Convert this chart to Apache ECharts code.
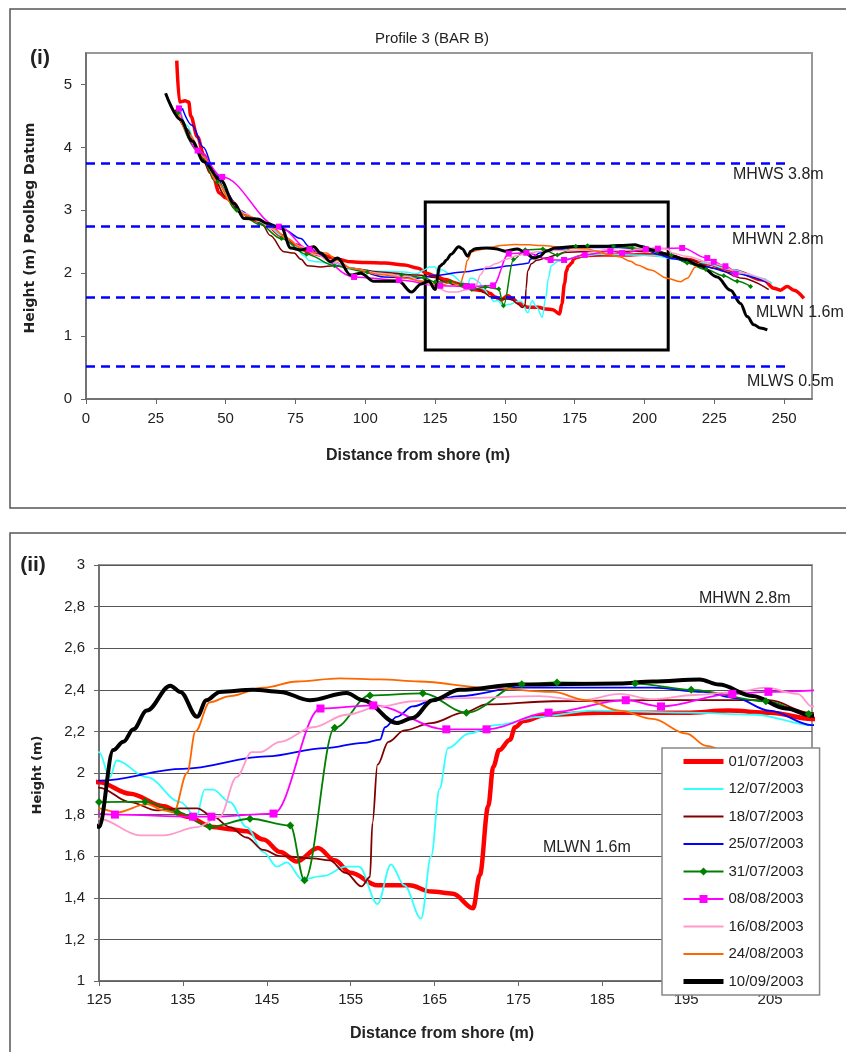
<!DOCTYPE html>
<html lang="en">
<head>
    <meta charset="UTF-8">
    <title>Profile 3 (BAR B)</title>
    <style>
        html,
        body,
        #chart {
            margin: 0px;
            padding: 0px;
            width: 846px;
            height: 1052px;
            background: #fff;
        }
    </style>
</head>
<body>
    <div id="chart"></div>
    <script src="https://cdn.jsdelivr.net/npm/echarts@6/dist/echarts.min.js"></script>
    <script>
        // survey dates (legend order = draw order)
        var dates = ['01/07/2003', '12/07/2003', '18/07/2003', '25/07/2003', '31/07/2003',
            '08/08/2003', '16/08/2003', '24/08/2003', '10/09/2003'];
        var colors = ['#ff0000', '#33ffff', '#800000', '#0000ff', '#008000',
            '#ff00ff', '#ff99cc', '#ff6600', '#000000'];

        // profiles: [distance from shore (m), height (m)]
        var p0107 = [[32.5, 5.38], [33.5, 4.72], [35.5, 4.74], [36.8, 4.72], [37.5, 4.5], [39.9, 4.17], [42.2, 3.88], [44.6, 3.6], [45.8, 3.5], [47.6, 3.28], [50, 3.2], [52, 3.15], [55, 2.98], [60, 2.85], [65, 2.75], [70, 2.6], [75, 2.45], [80, 2.33], [85, 2.28], [90, 2.22], [95, 2.18], [100, 2.17], [107, 2.16], [114, 2.13], [119, 2.08], [122, 2.0], [125, 1.955], [128.7, 1.9], [132.7, 1.84], [135.5, 1.79], [138.6, 1.74], [140.6, 1.73], [142.6, 1.72], [144.6, 1.68], [146.6, 1.62], [148.6, 1.575], [151.1, 1.64], [153.1, 1.58], [155, 1.52], [158.2, 1.46], [162, 1.46], [164.6, 1.43], [167.2, 1.42], [169.6, 1.35], [170.4, 1.51], [171.4, 1.84], [172, 2.03], [172.7, 2.11], [174, 2.16], [174.6, 2.22], [175.6, 2.25], [178.3, 2.28], [185, 2.29], [195, 2.29], [200, 2.3], [205, 2.29], [210, 2.26], [215, 2.22], [222, 2.15], [232, 2.04], [242.7, 1.89], [246.3, 1.76], [248.7, 1.73], [251.1, 1.79], [253.5, 1.73], [257.1, 1.6]];
        var p1207 = [[33.5, 4.65], [36, 4.35], [40, 3.98], [45, 3.6], [50, 3.22], [55, 3.0], [60, 2.87], [65, 2.75], [70, 2.6], [75, 2.42], [78, 2.28], [80, 2.2], [83, 2.18], [88, 2.15], [95, 2.06], [105, 2.03], [114, 2.02], [118.5, 1.99], [121, 2.05], [123, 2.1], [125, 2.1], [126.3, 1.98], [127.1, 2.06], [130.7, 1.98], [134.7, 1.86], [136.6, 1.79], [137.6, 1.92], [138.6, 1.92], [140.6, 1.86], [142.6, 1.74], [144.6, 1.62], [146.2, 1.55], [147.4, 1.57], [149.2, 1.49], [151.8, 1.505], [154.4, 1.55], [156, 1.55], [158.2, 1.37], [159.8, 1.56], [161.4, 1.46], [163.4, 1.3], [164.6, 1.6], [165.6, 1.925], [166.6, 2.12], [169.1, 2.19], [172.3, 2.23], [177.5, 2.27], [183.9, 2.3], [195, 2.29], [203.2, 2.28], [210, 2.23], [220, 2.17], [232, 2.05], [240, 1.94], [245.7, 1.84]];
        var p1807 = [[32, 4.6], [36, 4.3], [40, 3.95], [45, 3.58], [50, 3.22], [55, 2.98], [60, 2.88], [63, 2.78], [66, 2.6], [70.9, 2.34], [74.5, 2.32], [77, 2.22], [79.3, 2.12], [84, 2.1], [88.8, 2.12], [94.8, 2.08], [105, 2.02], [118.7, 1.97], [125, 1.93], [128.7, 1.86], [131.9, 1.82], [134.7, 1.83], [136.7, 1.83], [138.6, 1.79], [140.6, 1.74], [142.6, 1.69], [144.6, 1.63], [146.6, 1.6], [150.5, 1.59], [152.5, 1.58], [154.4, 1.52], [156.3, 1.455], [157.3, 1.5], [157.6, 1.76], [158.2, 2.04], [159.5, 2.15], [161.4, 2.205], [164.6, 2.24], [168.5, 2.29], [171.2, 2.33], [179.1, 2.345], [191, 2.35], [204.9, 2.35], [209.7, 2.29], [215, 2.22], [225, 2.08], [235, 1.92], [244.5, 1.74]];
        var p2507 = [[34.5, 4.62], [38, 4.35], [42, 4.0], [46, 3.62], [50, 3.3], [55, 3.0], [60, 2.86], [65, 2.78], [70.9, 2.69], [76.9, 2.55], [80, 2.42], [82.8, 2.32], [88, 2.18], [95, 2.08], [106.7, 1.94], [118.7, 1.92], [125, 1.963], [135, 2.02], [145, 2.08], [152, 2.12], [156.5, 2.145], [158.5, 2.16], [159.1, 2.22], [160.5, 2.27], [162.4, 2.32], [164.8, 2.35], [168, 2.37], [175.1, 2.41], [191, 2.41], [197, 2.39], [200.9, 2.36], [204.9, 2.3], [210, 2.23], [220, 2.12], [232, 2.0], [244, 1.85]];
        var p3107 = [[33, 4.55], [40, 3.95], [47, 3.45], [54, 3.0], [62, 2.78], [70, 2.55], [79, 2.3], [89, 2.12], [100.7, 2.02], [113, 1.97], [121, 1.93], [125, 1.86], [130.5, 1.862], [134.3, 1.813], [138.2, 1.741], [143, 1.78], [147.8, 1.747], [149.5, 1.484], [153.1, 2.218], [157.3, 2.373], [163.6, 2.383], [168.8, 2.29], [175.4, 2.427], [179.6, 2.435], [188.9, 2.43], [195.6, 2.4], [204.5, 2.345], [209.6, 2.284], [215.3, 2.16], [222, 2.06], [228.4, 1.96], [233.2, 1.87], [238, 1.79]];
        var p0808 = [[33.3, 4.62], [40, 3.95], [48.8, 3.53], [69.1, 2.74], [80, 2.38], [96, 1.94], [112, 1.89], [126.9, 1.8], [136.2, 1.79], [138.4, 1.79], [145.8, 1.805], [151.4, 2.31], [157.7, 2.325], [166.4, 2.21], [171.2, 2.21], [178.6, 2.29], [187.8, 2.35], [192, 2.32], [200.5, 2.38], [204.8, 2.39], [213.5, 2.4], [222.5, 2.24], [224.8, 2.18], [229, 2.11], [232.6, 1.99]];
        var p1608 = [[33, 4.55], [37, 4.2], [42, 3.85], [47, 3.45], [52, 3.15], [57, 2.95], [62, 2.82], [67, 2.7], [72, 2.55], [77, 2.42], [82, 2.3], [88, 2.18], [95, 2.08], [105, 2.0], [115, 1.95], [120, 1.88], [125, 1.78], [129.9, 1.7], [132.7, 1.7], [136.7, 1.74], [139.4, 1.79], [141.4, 1.98], [143.2, 2.1], [144.2, 2.1], [146.6, 2.15], [150.5, 2.22], [154.5, 2.28], [158.5, 2.32], [162.4, 2.345], [168, 2.36], [177.5, 2.37], [182.6, 2.35], [187.1, 2.38], [191, 2.355], [196, 2.375], [200.9, 2.39], [204.5, 2.41], [208.3, 2.38], [210, 2.32], [215, 2.27], [225, 2.15], [235, 2.0], [245, 1.85]];
        var p2408 = [[33, 4.55], [37, 4.2], [42, 3.85], [47, 3.45], [52, 3.12], [57, 2.92], [62, 2.85], [67, 2.72], [72, 2.55], [77, 2.4], [82, 2.33], [86, 2.32], [90, 2.2], [95, 2.08], [105, 1.98], [115, 1.92], [120, 1.87], [125, 1.83], [127.1, 1.81], [130.7, 1.85], [132.7, 1.82], [133.9, 1.81], [135.5, 2.0], [136.5, 2.2], [138.2, 2.34], [140.6, 2.37], [144.6, 2.41], [148.6, 2.44], [153.7, 2.455], [158.5, 2.45], [163.2, 2.44], [171.2, 2.41], [179.1, 2.39], [183.1, 2.35], [187, 2.3], [191, 2.26], [195, 2.19], [197.4, 2.13], [202.2, 2.05], [208.2, 1.92], [212.9, 1.865], [215.3, 1.92], [218.3, 2.1], [219.5, 2.16]];
        var p1009 = [[28.5, 4.86], [33.9, 4.44], [38, 4.1], [42.2, 3.77], [48.2, 3.48], [53, 3.11], [56.6, 2.87], [61.4, 2.86], [65, 2.79], [68.5, 2.74], [70, 2.72], [73.3, 2.4], [77, 2.37], [81.6, 2.42], [84, 2.32], [87.6, 2.18], [90, 2.24], [94.8, 1.97], [98.4, 2.0], [103.1, 1.87], [112, 1.87], [116.6, 1.7], [120, 1.83], [122.8, 1.87], [125, 1.74], [126.7, 2.11], [127.9, 2.15], [129.1, 2.21], [130.7, 2.3], [133.5, 2.42], [134.7, 2.39], [136.7, 2.27], [137.8, 2.35], [139.4, 2.39], [143.4, 2.4], [146.6, 2.39], [150.1, 2.35], [154.5, 2.385], [156.5, 2.35], [160.5, 2.24], [162.4, 2.265], [164.8, 2.35], [168, 2.4], [175.1, 2.425], [187, 2.43], [191, 2.44], [196.6, 2.45], [198.9, 2.425], [202.9, 2.37], [206.9, 2.31], [210, 2.275], [214, 2.22], [220, 2.12], [226, 1.94], [230.8, 1.73], [234.4, 1.52], [236.8, 1.31], [239.2, 1.18], [241.5, 1.13], [244, 1.1]];
        var profiles = [p0107, p1207, p1807, p2507, p3107, p0808, p1608, p2408, p1009];

        // tide levels (Poolbeg datum)
        var tideNames = ['MHWS 3.8m', 'MHWN 2.8m', 'MLWN 1.6m', 'MLWS 0.5m'];
        var tideLevels = [3.74, 2.74, 1.62, 0.52];
        var tideEnd = 252;
        // zoom box drawn on panel (i)
        var boxX = [121.5, 208.5];
        var boxY = [0.78, 3.13];

        var ticksX1 = [0, 25, 50, 75, 100, 125, 150, 175, 200, 225, 250];
        var ticksY1 = [0, 1, 2, 3, 4, 5];
        var ticksX2 = [125, 135, 145, 155, 165, 175, 185, 195, 205];

        var FONT = '"Liberation Sans", Arial, sans-serif';
        var myChart = echarts.init(document.getElementById('chart'));

        var series = [];
        // annotation holder for panel (i)
        series.push({
            type: 'line', xAxisIndex: 0, yAxisIndex: 0, data: [], silent: true,
            markLine: {
                silent: true, symbol: 'none', label: { show: false },
                lineStyle: { color: '#0000ff', type: [9, 6], width: 2.5 },
                data: tideLevels.map(function (v) {
                    return [{ coord: [0, v] }, { coord: [tideEnd, v] }];
                })
            },
            markArea: {
                silent: true,
                itemStyle: { color: 'rgba(0,0,0,0)', borderColor: '#000', borderWidth: 3 },
                data: [[{ coord: [boxX[0], boxY[1]] }, { coord: [boxX[1], boxY[0]] }]]
            }
        });

        function lineWidth(i, k) {
            if (i === 0) return k ? 4.5 : 3.5;
            if (i === 8) return k ? 4 : 3;
            return k ? 1.8 : 1.5;
        }

        for (var i = 0; i < dates.length; i++) {
            var sym = i === 4 ? 'diamond' : (i === 5 ? 'rect' : 'none');
            for (var k = 0; k < 2; k++) {
                series.push({
                    name: dates[i],
                    type: 'line',
                    xAxisIndex: k,
                    yAxisIndex: k,
                    data: profiles[i],
                    smooth: 0.35,
                    smoothMonotone: 'x',
                    symbol: sym,
                    showSymbol: sym !== 'none',
                    symbolSize: i === 4 ? (k ? 8 : 5) : (k ? 8 : 6),
                    color: colors[i],
                    itemStyle: { color: colors[i] },
                    lineStyle: { color: colors[i], width: lineWidth(i, k) },
                    clip: true,
                    silent: true
                });
            }
        }

        // legend entries: only the two marker series show a symbol
        var legendData = dates.map(function (d, i) {
            var item = { name: d, lineStyle: { width: i === 0 || i === 8 ? 5 : 2.2 } };
            if (i !== 4 && i !== 5) item.itemStyle = { opacity: 0 };
            return item;
        });

        function axisText(size, bold) {
            return { color: '#222', fontSize: size, fontFamily: FONT, fontWeight: bold ? 'bold' : 'normal' };
        }

        var gtext = function (txt, x, y, size, weight, rot, family, align) {
            return {
                type: 'text', x: x, y: y, rotation: rot || 0, z: 100,
                style: {
                    text: txt, fill: '#222', align: align || 'center', verticalAlign: 'middle',
                    font: (weight || 'normal') + ' ' + size + 'px ' + (family || FONT)
                }
            };
        };

        myChart.setOption({
            animation: false,
            backgroundColor: '#fff',
            grid: [
                { left: 86, right: 34, top: 53, bottom: 653, show: true, borderColor: '#999', borderWidth: 2 },
                { left: 99, right: 34, top: 565, bottom: 71, show: true, borderColor: '#999', borderWidth: 2 }
            ],
            xAxis: [{
                gridIndex: 0, type: 'value', min: 0, max: 260,
                axisLine: { lineStyle: { color: '#666', width: 1.5 } },
                axisTick: { length: 5, lineStyle: { color: '#666' }, customValues: ticksX1 },
                axisLabel: Object.assign({ margin: 12, customValues: ticksX1 }, axisText(15)),
                splitLine: { show: false }
            }, {
                gridIndex: 1, type: 'value', min: 125, max: 210,
                axisLine: { lineStyle: { color: '#666', width: 1.5 } },
                axisTick: { length: 5, lineStyle: { color: '#666' }, customValues: ticksX2 },
                axisLabel: Object.assign({ margin: 11, customValues: ticksX2 }, axisText(15)),
                splitLine: { show: false }
            }],
            yAxis: [{
                gridIndex: 0, type: 'value', min: 0, max: 5.5,
                axisLine: { show: true, lineStyle: { color: '#666', width: 1.5 } },
                axisTick: { show: true, length: 5, lineStyle: { color: '#666' }, customValues: ticksY1 },
                axisLabel: Object.assign({ margin: 14, customValues: ticksY1 }, axisText(15)),
                splitLine: { show: false }
            }, {
                gridIndex: 1, type: 'value', min: 1, max: 3, interval: 0.2,
                axisLine: { show: true, lineStyle: { color: '#666', width: 1.5 } },
                axisTick: { show: true, length: 5, lineStyle: { color: '#666' } },
                axisLabel: Object.assign({
                    margin: 14,
                    formatter: function (v) { return String(+v.toFixed(1)).replace('.', ','); }
                }, axisText(15)),
                splitLine: { show: true, lineStyle: { color: '#555', width: 1.2 } }
            }],
            legend: {
                data: legendData,
                orient: 'vertical',
                left: 662, top: 748,
                padding: [6, 16, 6, 19],
                itemWidth: 40, itemHeight: 10, itemGap: 12.5,
                backgroundColor: '#fff',
                borderColor: '#888', borderWidth: 1.5,
                selectedMode: false,
                textStyle: { color: '#222', fontSize: 15, fontFamily: FONT, lineHeight: 15 },
                z: 20
            },
            graphic: [
                { type: 'rect', shape: { x: 10, y: 9, width: 860, height: 499 }, style: { fill: 'none', stroke: '#555', lineWidth: 1.5 }, z: -1 },
                { type: 'rect', shape: { x: 10, y: 533, width: 860, height: 540 }, style: { fill: 'none', stroke: '#555', lineWidth: 1.5 }, z: -1 },
                gtext('Profile 3 (BAR B)', 432, 39, 15),
                gtext('(i)', 40, 58, 21, 'bold'),
                gtext('(ii)', 33, 565, 21, 'bold'),
                gtext('Height (m) Poolbeg Datum', 30, 228, 14, 'bold', Math.PI / 2, '"DejaVu Sans", Verdana, sans-serif'),
                gtext('Height (m)', 38, 775, 13, 'bold', Math.PI / 2, '"DejaVu Sans", Verdana, sans-serif'),
                gtext('Distance from shore (m)', 418, 456, 16, 'bold'),
                gtext('Distance from shore (m)', 442, 1034, 16, 'bold'),
                gtext(tideNames[0], 733, 175, 16, 'normal', 0, FONT, 'left'),
                gtext(tideNames[1], 732, 240, 16, 'normal', 0, FONT, 'left'),
                gtext(tideNames[2], 756, 313, 16, 'normal', 0, FONT, 'left'),
                gtext(tideNames[3], 747, 382, 16, 'normal', 0, FONT, 'left'),
                gtext(tideNames[1], 699, 599, 16, 'normal', 0, FONT, 'left'),
                gtext(tideNames[2], 543, 848, 16, 'normal', 0, FONT, 'left')
            ],
            series: series
        });
    </script>
</body>
</html>
